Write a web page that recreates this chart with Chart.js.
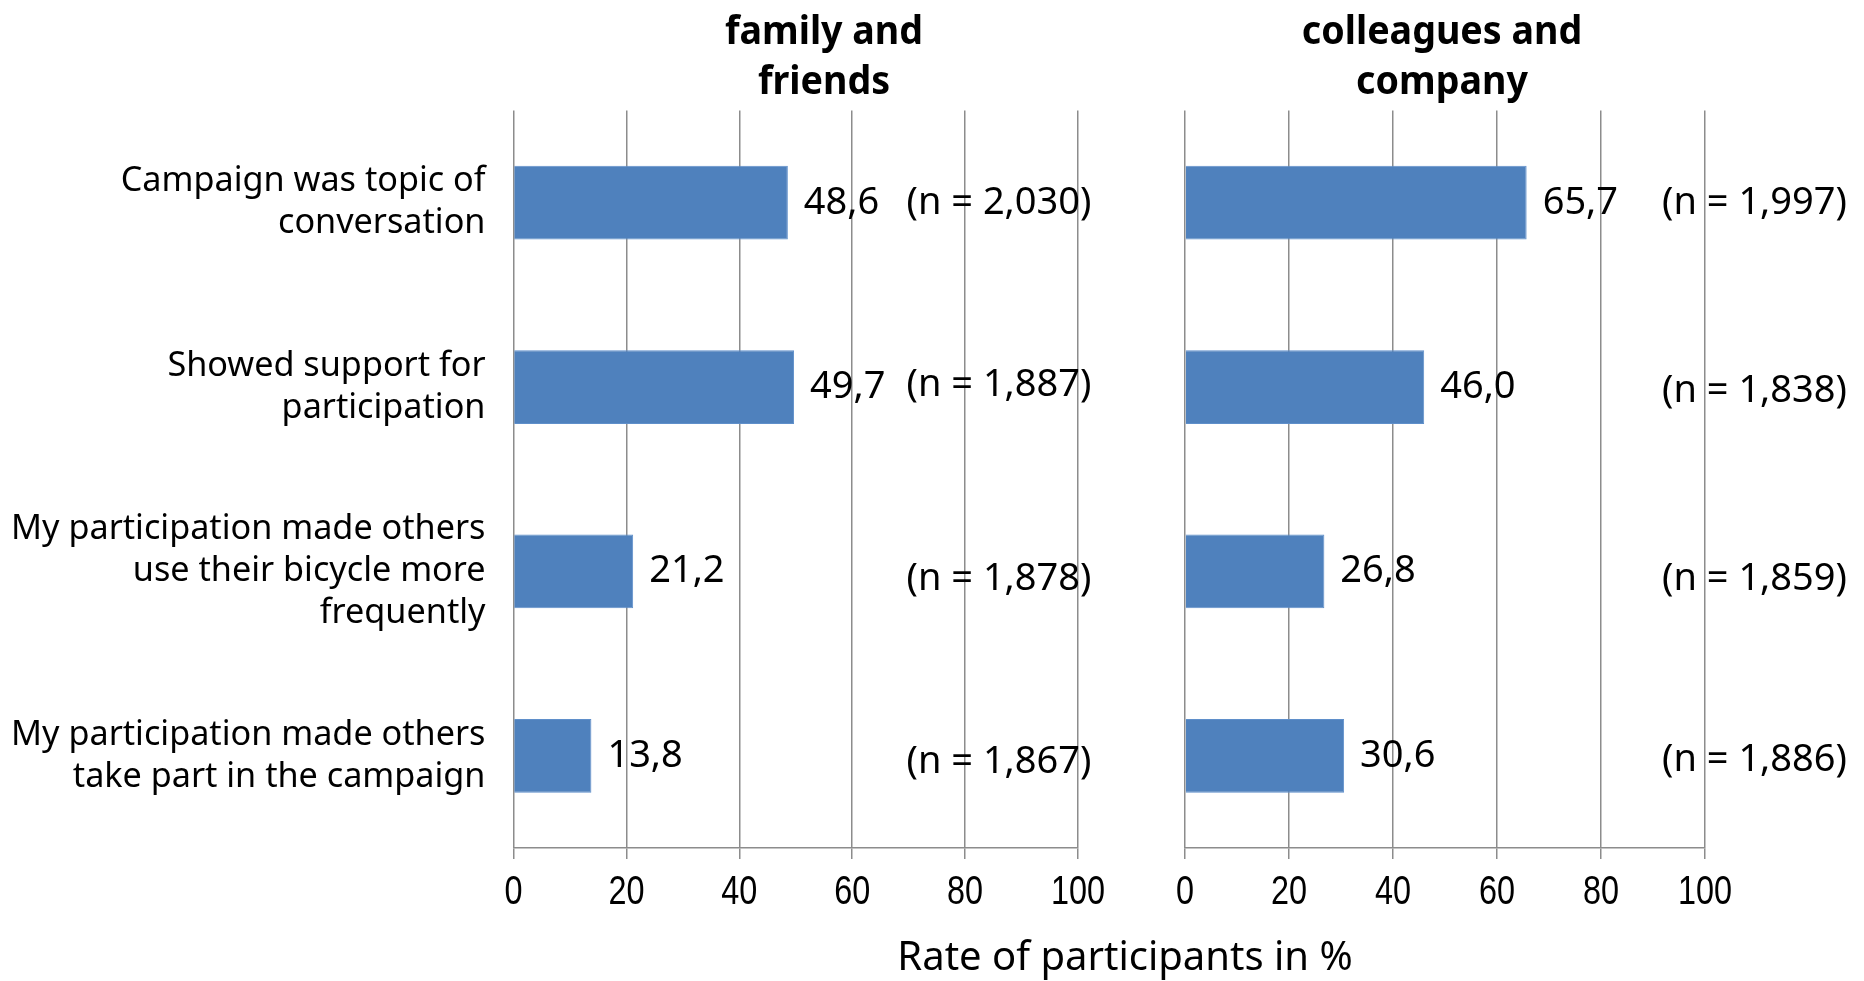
<!DOCTYPE html>
<html>
<head>
<meta charset="utf-8">
<script src="https://cdn.jsdelivr.net/npm/chart.js@4.4.1/dist/chart.umd.min.js"></script>
<style>
  html, body { margin: 0; padding: 0; background: #fff; }
  body { width: 1864px; height: 981px; position: relative; overflow: hidden; }
  .panel { position: absolute; top: 0; height: 981px; }
  #axisTitle {
    position: absolute; left: 0; width: 2250px; top: 928px; text-align: center;
    font: 40px "Noto Sans", sans-serif; color: #000; line-height: 54px;
  }
</style>
</head>
<body>
<div class="panel" style="left:0;width:1180px"><canvas id="family" width="1180" height="981"></canvas></div>
<div class="panel" style="left:1130px;width:734px"><canvas id="colleagues" width="734" height="981"></canvas></div>
<div id="axisTitle">Rate of participants in %</div>
<script>
// Survey statements (one bar per statement in each panel)
const statements = [
  ['Campaign was topic of', 'conversation'],
  ['Showed support for', 'participation'],
  ['My participation made others', 'use their bicycle more', 'frequently'],
  ['My participation made others', 'take part in the campaign']
];

// Share of participants (%) per statement
const familyRates = [48.6, 49.7, 21.2, 13.8];
const colleagueRates = [65.7, 46.0, 26.8, 30.6];

// Number of respondents per statement
const familyN = [2030, 1887, 1878, 1867];
const colleagueN = [1997, 1838, 1859, 1886];

// Value axis ticks
const rateTicks = [0, 20, 40, 60, 80, 100];

const familyTitle = ['family and', 'friends'];
const colleagueTitle = ['colleagues and', 'company'];

const BAR_BLUE = '#4F81BD';
const GRID_GREY = '#8c8c8c';
const SANS = '"Noto Sans", sans-serif';

// Draw text squeezed horizontally (narrow face built from a regular one)
function drawSqueezed(ctx, text, x, y, squeeze) {
  ctx.save();
  ctx.translate(x, y);
  ctx.scale(squeeze, 1);
  ctx.fillText(text, 0, 0);
  ctx.restore();
}

// Two-line bold heading above each panel
const panelTitle = {
  id: 'panelTitle',
  afterDraw(chart, args, opts) {
    const ctx = chart.ctx;
    ctx.save();
    ctx.font = 'bold 40px ' + SANS;
    ctx.fillStyle = '#000';
    ctx.textAlign = 'center';
    ctx.textBaseline = 'middle';
    opts.lines.forEach((t, i) => drawSqueezed(ctx, t, opts.x, opts.y + i * opts.lineGap, 0.94));
    ctx.restore();
  }
};

// Narrow tick numbers under the value axis
const narrowTicks = {
  id: 'narrowTicks',
  afterDraw(chart) {
    const scale = chart.scales.x;
    const ctx = chart.ctx;
    ctx.save();
    ctx.font = '40px "Liberation Sans", Arial, sans-serif';
    ctx.fillStyle = '#000';
    ctx.textAlign = 'center';
    ctx.textBaseline = 'middle';
    scale.ticks.forEach(t => {
      drawSqueezed(ctx, String(t.value), scale.getPixelForValue(t.value), scale.top + 45, 0.81);
    });
    ctx.restore();
  }
};

// Value next to each bar plus the respondent count for that row
const barLabels = {
  id: 'barLabels',
  afterDatasetsDraw(chart, args, opts) {
    const { ctx, chartArea } = chart;
    const meta = chart.getDatasetMeta(0);
    const values = chart.data.datasets[0].data;
    ctx.save();
    ctx.font = '38px ' + SANS;
    ctx.fillStyle = '#000';
    ctx.textAlign = 'left';
    ctx.textBaseline = 'middle';
    meta.data.forEach((bar, i) => {
      ctx.fillText(values[i].toFixed(1).replace('.', ','), bar.x + 16, bar.y);
      const nText = '(n = ' + opts.counts[i].toLocaleString('en-US') + ')';
      ctx.fillText(nText, chartArea.left + opts.nOffset, bar.y + opts.nShift[i]);
    });
    ctx.restore();
  }
};

function makePanel(canvasId, values, counts, showLabels, padding, titleOpts, nOffset, nShift) {
  return new Chart(document.getElementById(canvasId), {
    type: 'bar',
    data: {
      labels: statements,
      datasets: [{
        data: values,
        backgroundColor: BAR_BLUE,
        borderColor: '#5f8fca',
        borderWidth: 1,
        barPercentage: 0.4,
        categoryPercentage: 1.0
      }]
    },
    plugins: [panelTitle, narrowTicks, barLabels],
    options: {
      indexAxis: 'y',
      responsive: false,
      animation: false,
      events: [],
      layout: { padding: padding },
      plugins: {
        legend: { display: false },
        title: { display: false },
        tooltip: { enabled: false },
        panelTitle: titleOpts,
        barLabels: { counts: counts, nOffset: nOffset, nShift: nShift }
      },
      scales: {
        x: {
          min: 0,
          max: 100,
          afterBuildTicks(scale) { scale.ticks = rateTicks.map(v => ({ value: v })); },
          afterFit(scale) { scale.height = 133; },
          grid: { color: GRID_GREY, lineWidth: 1.5, tickLength: 11, drawTicks: true },
          border: { display: true, color: GRID_GREY, width: 1.5 },
          ticks: { display: false }
        },
        y: {
          display: showLabels,
          afterFit(scale) { if (showLabels) scale.width = 513.5; },
          grid: { display: false, drawTicks: false },
          border: { display: false },
          ticks: {
            color: '#000',
            padding: 28,
            font: { family: SANS, size: 34.2, lineHeight: 42 / 34.2 }
          }
        }
      }
    }
  });
}

makePanel('family', familyRates, familyN, true,
  { top: 110.5, right: 102, bottom: 0, left: 0 },
  { lines: familyTitle, x: 824, y: 33, lineGap: 50 },
  393, [0, -2, 8, 6]);

makePanel('colleagues', colleagueRates, colleagueN, false,
  { top: 110.5, right: 159, bottom: 0, left: 55 },
  { lines: colleagueTitle, x: 312, y: 33, lineGap: 50 },
  477, [0, 4, 8, 4]);
</script>
</body>
</html>
